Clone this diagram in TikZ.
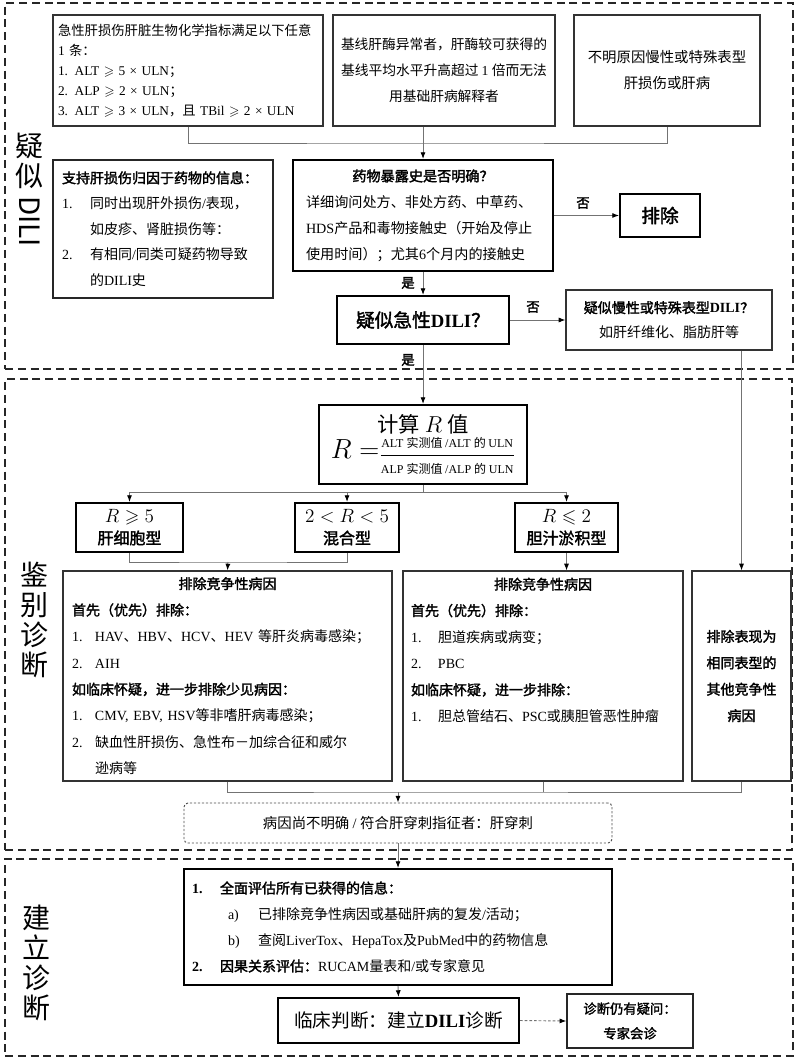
\documentclass[tikz,border=0pt]{standalone}
\usepackage{amsmath,amssymb}
\usepackage{fontspec}
\setmainfont{Liberation Serif}
\newfontfamily\cjkfont[AutoFakeBold=2]{Noto Sans CJK SC}
\usepackage{graphicx}
\usepackage{tikz}
\usetikzlibrary{arrows.meta}

% switch to the CJK font for Chinese characters, back for Latin ones
\XeTeXinterchartokenstate=1
\newXeTeXintercharclass\cjkclass
\makeatletter
\newcommand\cjkrange[2]{\count@=#1\relax
  \loop\XeTeXcharclass\count@=\cjkclass\relax
  \ifnum\count@<#2\relax\advance\count@\@ne\repeat}
\makeatother
\cjkrange{"3000}{"303F}
\cjkrange{"4E00}{"9FFF}
\cjkrange{"FF00}{"FFEF}
\XeTeXinterchartoks 0 \cjkclass={\cjkfont}
\XeTeXinterchartoks 4095 \cjkclass={\cjkfont}
\XeTeXinterchartoks \cjkclass 0={\rmfamily}
\XeTeXinterchartoks 4095 0={\rmfamily}

\newdimen\px \px=0.75pt
\newcommand\itm[2][23]{\makebox[#1\px][l]{#2}}
\newcommand\sidefont{\XeTeXinterchartokenstate=0 \cjkfont\fontsize{21}{22.5}\selectfont}
\newcommand\fractext[1]{\mbox{\fontsize{9}{10}\selectfont #1}}

\tikzset{
  crit/.style={draw=black!80,line width=0.9pt,inner sep=0pt,align=left,font=\fontsize{10.5}{19.5}\selectfont},
  key/.style={crit,draw=black,line width=1.6pt},
  frame/.style={draw=black!85,line width=1.5pt,dash pattern=on 6pt off 3.6pt,inner sep=0pt},
  link/.style={draw=black!55,line width=0.7pt},
  flow/.style={link,-{Latex[length=5pt,width=3.8pt,color=black]}},
  tag/.style={font=\bfseries\fontsize{10}{12}\selectfont,inner sep=1pt},
  side/.style={align=center,inner sep=0pt,font=\sidefont},
  wh/.style 2 args={minimum width=#1\px,minimum height=#2\px},
}

\begin{document}
\begin{tikzpicture}[x=\px,y=-\px]
\useasboundingbox (0,0) rectangle (800,1062);

% three stages
\node[frame,wh={788}{366}] (sec1) at (399,186) {};
\node[frame,wh={787}{471}] (sec2) at (398.5,614.5) {};
\node[frame,wh={788}{197}] (sec3) at (399,957.5) {};
\node[side] (lab1) at (30,190) {疑\\似\\[-15pt]\rotatebox{-90}{DILI}};
\node[side] (lab2) at (34,620) {鉴\\别\\诊\\断};
\node[side] (lab3) at (36,963) {建\\立\\诊\\断};

% Stage 1: suspicion
\node[crit,wh={270}{111},text width=260\px,font=\fontsize{10}{15}\selectfont] (crit) at (188,70.5)
  {急性肝损伤肝脏生物化学指标满足以下任意\\1 条：\\1. ALT $\geqslant$ 5 × ULN；\\2. ALP $\geqslant$ 2 × ULN；\\3. ALT $\geqslant$ 3 × ULN，且 TBil $\geqslant$ 2 × ULN};
\node[crit,wh={222}{111},align=center,font=\fontsize{10.3}{19.5}\selectfont] (base) at (444,70.5)
  {基线肝酶异常者，肝酶较可获得的\\基线平均水平升高超过 1 倍而无法\\用基础肝病解释者};
\node[crit,wh={186}{111},align=center,font=\fontsize{10.8}{19.5}\selectfont] (chronic) at (667,70.5)
  {不明原因慢性或特殊表型\\肝损伤或肝病};
\node[crit,draw=black!85,line width=1.1pt,wh={220}{138},text width=202\px,font=\fontsize{10.5}{19.2}\selectfont] (info) at (163,229)
  {{\bfseries 支持肝损伤归因于药物的信息：}\\\itm[28]{1.}同时出现肝外损伤/表现，\\\hspace*{28\px}如皮疹、肾脏损伤等：\\\itm[28]{2.}有相同/同类可疑药物导致\\\hspace*{28\px}的DILI史};
\node[key,wh={260}{111},text width=234\px,font=\fontsize{10.6}{19.5}\selectfont] (drug) at (423,215.5)
  {\makebox[234\px][c]{\bfseries 药物暴露史是否明确？}\\详细询问处方、非处方药、中草药、\\HDS产品和毒物接触史（开始及停止\\使用时间）；尤其6个月内的接触史};
\node[key,wh={80}{43},align=center,font=\bfseries\fontsize{14}{16}\selectfont] (excl) at (660,215.5) {排除};
\node[key,wh={172}{48},align=center,font=\bfseries\fontsize{14}{16}\selectfont] (acute) at (423,320) {疑似急性DILI？};
\node[crit,wh={206}{60},align=center,font=\fontsize{10.5}{18.5}\selectfont] (chron) at (669,320)
  {{\bfseries 疑似慢性或特殊表型DILI？}\\如肝纤维化、脂肪肝等};
\node[tag] (no1) at (583,203) {否};
\node[tag] (yes1) at (408,283) {是};
\node[tag] (no2) at (533,307) {否};
\node[tag] (yes2) at (408,360) {是};

% Stage 2: differential diagnosis
\node[key,wh={208}{79},align=center,font=\fontsize{12}{14}\selectfont] (calc) at (423,444.5)
  {{\fontsize{16}{20}\selectfont 计算 $R$ 值}\\[1pt]{\fontsize{20}{22}\selectfont $R=$}$\dfrac{\fractext{ALT 实测值 /ALT 的 ULN}\rule[-4pt]{0pt}{0pt}}{\rule{0pt}{12pt}\fractext{ALP 实测值 /ALP 的 ULN}}$};
\node[key,wh={107}{49},align=center,font=\fontsize{14}{16}\selectfont] (hep) at (129.5,527.5)
  {$R\geqslant 5$\\{\bfseries\fontsize{12}{16}\selectfont 肝细胞型}};
\node[key,wh={104}{49},align=center,font=\fontsize{14}{16}\selectfont] (mix) at (347,527.5)
  {$2<R<5$\\{\bfseries\fontsize{12}{16}\selectfont 混合型}};
\node[key,wh={103}{49},align=center,font=\fontsize{14}{16}\selectfont] (chol) at (566.5,527.5)
  {$R\leqslant 2$\\{\bfseries\fontsize{12}{16}\selectfont 胆汁淤积型}};
\node[crit,wh={329}{210},text width=311\px,font=\fontsize{10.5}{19.8}\selectfont] (lex) at (227.5,676)
  {\makebox[311\px][c]{\bfseries 排除竞争性病因}\\{\bfseries 首先（优先）排除：}\\\itm{1.}HAV、HBV、HCV、HEV 等肝炎病毒感染；\\\itm{2.}AIH\\{\bfseries 如临床怀疑，进一步排除少见病因：}\\\itm{1.}CMV, EBV, HSV等非嗜肝病毒感染；\\\itm{2.}缺血性肝损伤、急性布－加综合征和威尔\\\hspace*{23\px}逊病等};
\node[crit,wh={280}{210},text width=264\px,font=\fontsize{10.5}{19.8}\selectfont] (mex) at (543,676)
  {\makebox[264\px][c]{\bfseries 排除竞争性病因}\\{\bfseries 首先（优先）排除：}\\\itm[27]{1.}胆道疾病或病变；\\\itm[27]{2.}PBC\\{\bfseries 如临床怀疑，进一步排除：}\\\itm[27]{1.}胆总管结石、PSC或胰胆管恶性肿瘤\\\mbox{}\\\mbox{}};
\node[crit,wh={99}{210},align=center,font=\bfseries\fontsize{10.5}{19.8}\selectfont] (rex) at (741.5,676)
  {排除表现为\\相同表型的\\其他竞争性\\病因};
\node[crit,draw=black!70,line width=0.7pt,dash pattern=on 1.6pt off 1.4pt,rounded corners=3pt,wh={428}{40},align=center,font=\fontsize{10.8}{13}\selectfont] (biopsy) at (398,823)
  {病因尚不明确 / 符合肝穿刺指征者：肝穿刺};

% Stage 3: establish diagnosis
\node[key,wh={428}{116},text width=412\px,font=\fontsize{10.5}{19.5}\selectfont] (assess) at (398,927)
  {\itm[28]{\bfseries 1.}{\bfseries 全面评估所有已获得的信息：}\\\hspace*{36\px}\itm[30]{a)}已排除竞争性病因或基础肝病的复发/活动；\\\hspace*{36\px}\itm[30]{b)}查阅LiverTox、HepaTox及PubMed中的药物信息\\\itm[28]{\bfseries 2.}{\bfseries 因果关系评估：}RUCAM量表和/或专家意见};
\node[key,wh={241}{45},align=center,font=\fontsize{14}{16}\selectfont] (clin) at (398.5,1020.5) {临床判断：建立{\bfseries DILI}诊断};
\node[crit,draw=black!85,line width=1.1pt,wh={126}{54},align=center,font=\bfseries\fontsize{10}{18.5}\selectfont] (expert) at (630,1021)
  {诊断仍有疑问：\\专家会诊};

% connectors
\coordinate (jt) at (423,143);
\coordinate (jr) at (423,492);
\coordinate (jh) at (228,562);
\coordinate (jb) at (398,792);
\draw[link] (crit.south) |- (jt) -| (chronic.south);
\draw[flow] (base.south -| drug.north) -- (drug.north);
\draw[flow] (drug.east) -- (excl.west);
\draw[flow] (drug.south) -- (acute.north);
\draw[flow] (acute.east) -- (chron.west);
\draw[flow] (acute.south) -- (calc.north);
\draw[flow] (chron.south -| rex.north) -- (rex.north);
\draw[link] (calc.south) -- (jr);
\draw[flow] (jr) -| (hep.north);
\draw[flow] (jr) -| (mix.north);
\draw[flow] (jr) -| (chol.north);
\draw[link] (hep.south) |- (jh) -| (mix.south);
\draw[flow] (jh) -- (lex.north);
\draw[flow] (chol.south) -- (chol.south |- mex.north);
\draw[link] (lex.south) |- (jb) -| (rex.south);
\draw[link] (mex.south) -- (mex.south |- jb);
\draw[flow] (jb) -- (biopsy.north);
\draw[flow] (biopsy.south) -- (assess.north);
\draw[flow] (assess.south) -- (clin.north);
\draw[flow,dash pattern=on 2pt off 1.5pt] (clin.east) -- (expert.west);
\end{tikzpicture}
\end{document}
